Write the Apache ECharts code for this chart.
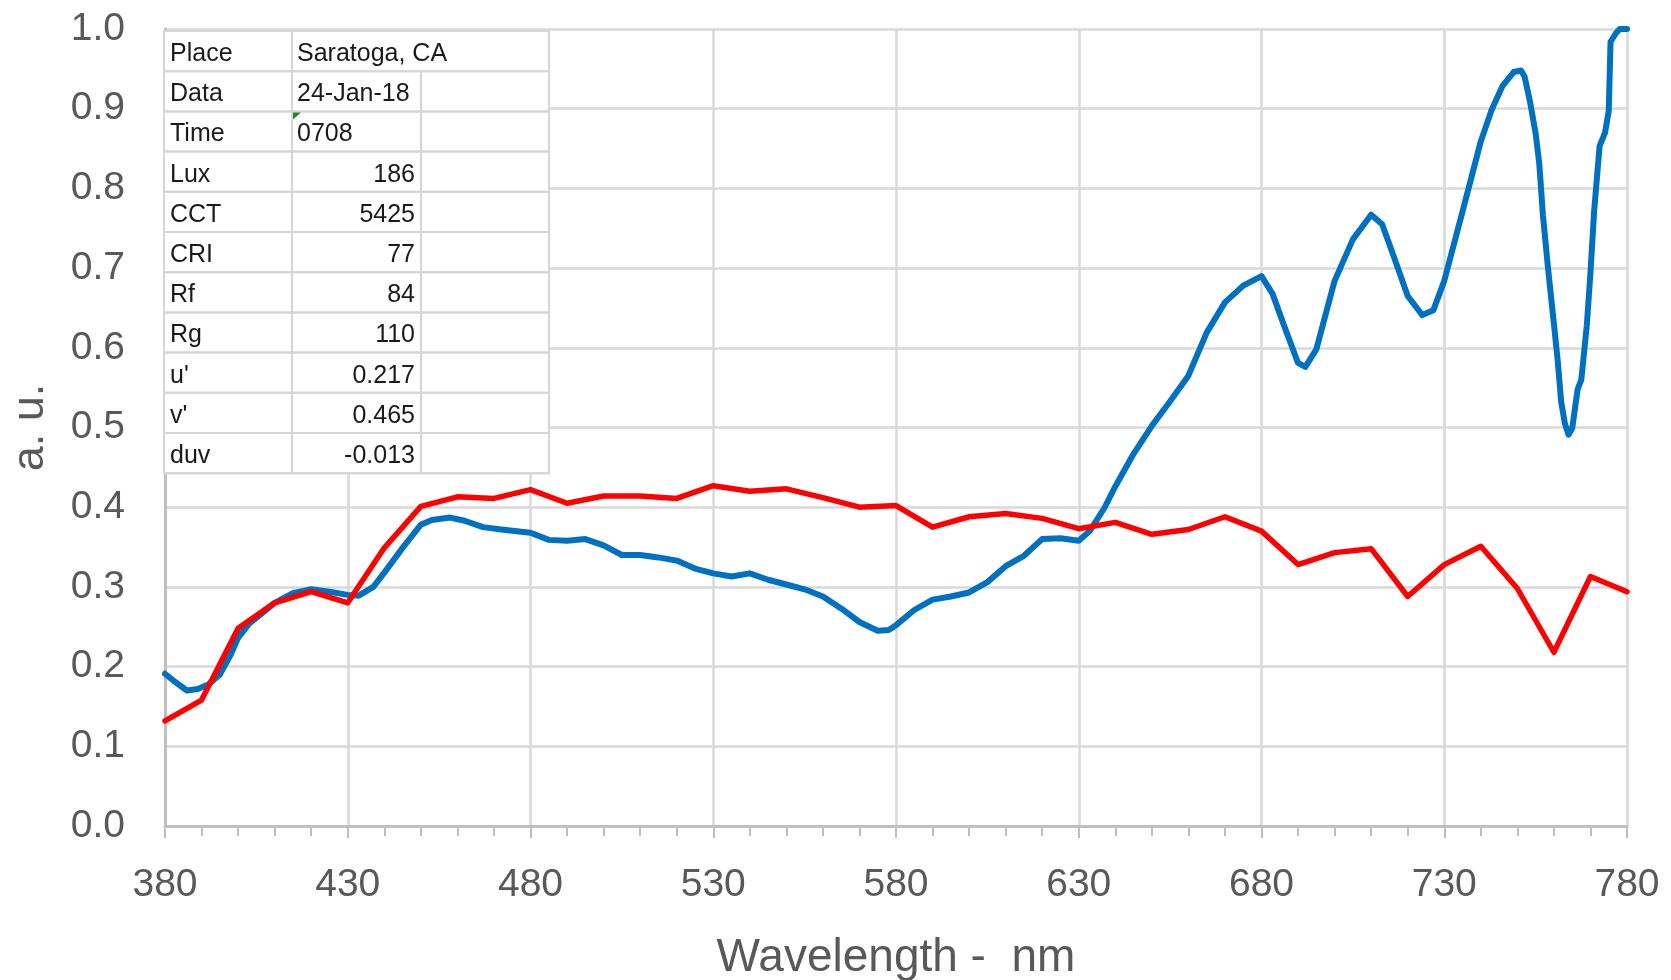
<!DOCTYPE html>
<html>
<head>
<meta charset="utf-8">
<script src="https://cdn.jsdelivr.net/npm/echarts@6/dist/echarts.min.js"></script>
<style>
html,body{margin:0;padding:0;background:#fff;}
#chart{width:1671px;height:980px;}
</style>
</head>
<body>
<div id="chart"></div>
<script>
// ---- data ----
const xTickLabels = ['380','430','480','530','580','630','680','730','780'];
const yTickLabels = ['0.0','0.1','0.2','0.3','0.4','0.5','0.6','0.7','0.8','0.9','1.0'];

const blueWl = [380,383,386,389,392,395,398,400,403,406,410,415,420,425,430,433,437,440,445,450,453,458,462,467,472,480,485,490,495,500,505,510,515,520,525,530,535,540,545,550,555,560,565,570,575,578,580,585,590,595,600,605,610,615,620,625,630,633,637,640,645,650,655,660,665,670,675,680,683,686,690,692,695,700,705,710,713,716,720,724,727,730,735,740,743,746,749,751,752,753.5,755,756,757,758.5,760,761,762,763,764,765,766.5,767.5,769,770,771,772.5,774,775,775.5,777,778,780];
const blueVal = [0.191,0.180,0.170,0.172,0.178,0.190,0.215,0.236,0.254,0.265,0.280,0.292,0.297,0.294,0.290,0.289,0.300,0.318,0.349,0.378,0.384,0.387,0.383,0.375,0.372,0.368,0.359,0.358,0.360,0.352,0.340,0.340,0.337,0.333,0.323,0.317,0.313,0.317,0.309,0.303,0.297,0.288,0.273,0.256,0.245,0.246,0.252,0.271,0.284,0.288,0.293,0.306,0.326,0.339,0.360,0.361,0.358,0.370,0.399,0.426,0.467,0.502,0.533,0.565,0.619,0.657,0.678,0.690,0.668,0.630,0.581,0.576,0.598,0.684,0.736,0.767,0.755,0.717,0.665,0.641,0.647,0.684,0.771,0.859,0.899,0.929,0.946,0.948,0.940,0.908,0.869,0.831,0.766,0.695,0.630,0.586,0.532,0.505,0.491,0.499,0.548,0.560,0.628,0.694,0.771,0.853,0.870,0.897,0.984,0.995,1.000,1.000];

const redWl = [380,390,400,410,420,430,440,450,460,470,480,490,500,510,520,530,540,550,560,570,580,590,600,610,620,630,640,650,660,670,680,690,700,710,720,730,740,750,760,770,780];
const redVal = [0.132,0.158,0.248,0.280,0.294,0.280,0.349,0.401,0.413,0.411,0.422,0.405,0.414,0.414,0.411,0.427,0.420,0.423,0.412,0.400,0.402,0.375,0.388,0.392,0.386,0.373,0.381,0.366,0.372,0.388,0.370,0.328,0.343,0.348,0.288,0.328,0.351,0.298,0.218,0.313,0.294];

const tableLabels = ['Place','Data','Time','Lux','CCT','CRI','Rf','Rg',"u'","v'",'duv'];
const tableValues = ['Saratoga, CA','24-Jan-18','0708','186','5425','77','84','110','0.217','0.465','-0.013'];

// ---- chart ----
const FONT = '"Liberation Sans", Arial, sans-serif';
const chart = echarts.init(document.getElementById('chart'), null, {renderer:'canvas'});

// table graphic
const T = {left:164, top:31, rowH:40.2, cols:[164, 292, 421, 549]};
const border = '#d6d6d6';
const gfx = [];
gfx.push({type:'rect', shape:{x:T.left, y:T.top, width:T.cols[3]-T.left, height:T.rowH*tableLabels.length},
  style:{fill:'#ffffff', stroke:border, lineWidth:2}, z:100});
tableLabels.forEach((lab, i) => {
  const y = T.top + i*T.rowH;
  gfx.push({type:'rect', shape:{x:T.cols[0], y:y, width:T.cols[1]-T.cols[0], height:T.rowH},
    style:{fill:'none', stroke:border, lineWidth:2}, z:101});
  if (i === 0) {
    gfx.push({type:'rect', shape:{x:T.cols[1], y:y, width:T.cols[3]-T.cols[1], height:T.rowH},
      style:{fill:'none', stroke:border, lineWidth:2}, z:101});
  } else {
    gfx.push({type:'rect', shape:{x:T.cols[1], y:y, width:T.cols[2]-T.cols[1], height:T.rowH},
      style:{fill:'none', stroke:border, lineWidth:2}, z:101});
    gfx.push({type:'rect', shape:{x:T.cols[2], y:y, width:T.cols[3]-T.cols[2], height:T.rowH},
      style:{fill:'none', stroke:border, lineWidth:2}, z:101});
  }
  gfx.push({type:'text', x:T.cols[0]+6, y:y+T.rowH/2+3, z:102,
    style:{text:lab, font:'25px '+FONT, fill:'#1a1a1a', textAlign:'left', textVerticalAlign:'middle'}});
  const leftAligned = i < 3;
  gfx.push({type:'text', x: leftAligned ? T.cols[1]+5 : T.cols[2]-6, y:y+T.rowH/2+3, z:102,
    style:{text:tableValues[i], font:'25px '+FONT, fill:'#1a1a1a', textAlign: leftAligned ? 'left':'right', textVerticalAlign:'middle'}});
});
// green error indicator in the "Time" value cell
gfx.push({type:'polygon', z:103, shape:{points:[[T.cols[1]+1, T.top+2*T.rowH+1],[T.cols[1]+9, T.top+2*T.rowH+1],[T.cols[1]+1, T.top+2*T.rowH+8]]},
  style:{fill:'#1e8a1e'}});

const option = {
  animation:false,
  backgroundColor:'#ffffff',
  grid:{left:165, right:44, top:29, bottom:154, containLabel:false, outerBoundsMode:'none'},
  xAxis:{
    type:'value', min:380, max:780, interval:50,
    name:'Wavelength -  nm', nameLocation:'middle', nameGap:109,
    nameTextStyle:{fontSize:46, color:'#595959', fontFamily:FONT},
    axisLine:{show:true, lineStyle:{color:'#bfbfbf', width:3}},
    axisTick:{show:true, length:12, lineStyle:{color:'#bfbfbf', width:2}},
    minorTick:{show:true, splitNumber:5, length:10, lineStyle:{color:'#bfbfbf', width:2}},
    splitLine:{show:true, lineStyle:{color:'#d9d9d9', width:2.5}},
    axisLabel:{fontSize:39, color:'#595959', fontFamily:FONT, margin:40,
      formatter:(v)=>{ const i = Math.round((v-380)/50); return xTickLabels[i] !== undefined && Math.abs(v-(380+50*i))<1e-6 ? xTickLabels[i] : ''; }}
  },
  yAxis:{
    type:'value', min:0, max:1, interval:0.1,
    name:'a. u.', nameLocation:'middle', nameGap:112, nameRotate:90,
    nameTextStyle:{fontSize:45, color:'#595959', fontFamily:FONT},
    axisLine:{show:true, lineStyle:{color:'#bfbfbf', width:3}},
    axisTick:{show:false},
    splitLine:{show:true, lineStyle:{color:'#d9d9d9', width:2.5}},
    axisLabel:{fontSize:39, color:'#595959', fontFamily:FONT, margin:40,
      formatter:(v)=> yTickLabels[Math.round(v*10)]}
  },
  series:[
    {type:'line', name:'measured', data: blueWl.map((w,i)=>[w, blueVal[i]]), showSymbol:false, symbol:'none',
      lineStyle:{color:'#0070c0', width:6, join:'round', cap:'round'}, z:3},
    {type:'line', name:'reference', data: redWl.map((w,i)=>[w, redVal[i]]), showSymbol:false, symbol:'none',
      lineStyle:{color:'#ff0000', width:5.5, join:'round', cap:'round'}, z:4}
  ],
  graphic: gfx
};
chart.setOption(option);
</script>
</body>
</html>
